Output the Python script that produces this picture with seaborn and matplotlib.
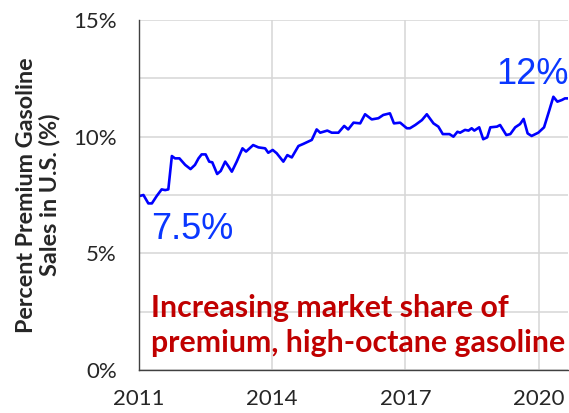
import matplotlib
matplotlib.use("Agg")
import matplotlib.pyplot as plt
import seaborn as sns
import pandas as pd

# premium share of US gasoline sales (decimal year, %)
years = [2011.02, 2011.10, 2011.21, 2011.29, 2011.40, 2011.51, 2011.59, 2011.66,
         2011.74, 2011.81, 2011.91, 2012.04, 2012.16, 2012.26, 2012.34, 2012.41,
         2012.50, 2012.58, 2012.65, 2012.76, 2012.84, 2012.94, 2013.01, 2013.09,
         2013.20, 2013.33, 2013.41, 2013.57, 2013.69, 2013.84, 2013.91, 2014.01,
         2014.10, 2014.25, 2014.34, 2014.44, 2014.59, 2014.70, 2014.89, 2015.00,
         2015.08, 2015.24, 2015.34, 2015.49, 2015.62, 2015.71, 2015.83, 2015.98,
         2016.09, 2016.24, 2016.39, 2016.50, 2016.65, 2016.74, 2016.88, 2017.03,
         2017.10, 2017.22, 2017.37, 2017.48, 2017.63, 2017.74, 2017.84, 2017.99,
         2018.08, 2018.17, 2018.23, 2018.34, 2018.42, 2018.49, 2018.55, 2018.66,
         2018.75, 2018.84, 2018.91, 2019.06, 2019.13, 2019.27, 2019.36, 2019.47,
         2019.58, 2019.66, 2019.75, 2019.84, 2019.99, 2020.12, 2020.24, 2020.33,
         2020.42, 2020.52, 2020.59, 2020.68]
share = [7.46, 7.50, 7.14, 7.14, 7.46, 7.74, 7.71, 7.74,
         9.17, 9.07, 9.07, 8.79, 8.61, 8.79, 9.07, 9.24,
         9.24, 8.93, 8.90, 8.40, 8.53, 8.93, 8.74, 8.50,
         8.93, 9.50, 9.36, 9.64, 9.54, 9.50, 9.31, 9.43,
         9.29, 8.93, 9.21, 9.11, 9.60, 9.69, 9.86, 10.31,
         10.17, 10.26, 10.17, 10.17, 10.46, 10.31, 10.60, 10.57,
         10.96, 10.74, 10.79, 10.93, 11.00, 10.57, 10.60, 10.36,
         10.36, 10.50, 10.71, 10.96, 10.57, 10.43, 10.11, 10.11,
         10.00, 10.21, 10.17, 10.29, 10.26, 10.36, 10.26, 10.40,
         9.89, 9.97, 10.40, 10.43, 10.50, 10.07, 10.11, 10.40,
         10.54, 10.76, 10.14, 10.03, 10.17, 10.40, 11.14, 11.71,
         11.50, 11.57, 11.64, 11.64]

year_ticks = [2011, 2014, 2017, 2020]
pct_ticks = [0, 2.5, 5, 7.5, 10, 12.5, 15]
pct_labels = ["0%", "", "5%", "", "10%", "", "15%"]

df = pd.DataFrame({"year": years, "share": share})

sns.set_style("white")
plt.rcParams["font.family"] = ["Lato", "DejaVu Sans"]

fig = plt.figure(figsize=(5.69, 4.13), dpi=100)
ax = fig.add_axes([0.2443, 0.1041, 0.7540, 0.8475])

sns.lineplot(data=df, x="year", y="share", color="#0000FF", linewidth=1.9, ax=ax)

ax.set_xlim(2011, 2020.66)
ax.set_ylim(0, 15)
ax.set_xticks(year_ticks)
ax.set_xticklabels([str(y) for y in year_ticks])
ax.set_yticks(pct_ticks)
ax.set_yticklabels(pct_labels)
ax.grid(True, color="#D6D6D6", linewidth=1.1)
ax.set_axisbelow(True)

for side in ["top", "right"]:
    ax.spines[side].set_visible(False)
for side in ["left", "bottom"]:
    ax.spines[side].set_color("#404040")
    ax.spines[side].set_linewidth(1.0)

ax.tick_params(axis="y", direction="out", length=5, width=1, color="#404040",
               labelsize=16, pad=11)
ax.tick_params(axis="x", direction="inout", length=9, width=1, color="#404040",
               labelsize=16, pad=9)

ax.set_xlabel("")
ax.set_ylabel("Percent Premium Gasoline\nSales in U.S. (%)", fontsize=16.8,
              fontweight="bold", labelpad=9, linespacing=1.1)

ax.text(2012.2, 6.0, "7.5%", color="#0A37FF", fontsize=26,
        family=["Liberation Sans"], ha="center", va="center")
ax.text(2019.85, 12.65, "12%", color="#0A37FF", fontsize=26,
        family=["Liberation Sans"], ha="center", va="center")
ax.text(2011.28, 1.9, "Increasing market share of\npremium, high-octane gasoline",
        color="#C00000", fontsize=21.8, fontweight="bold", ha="left",
        va="center", linespacing=1.3)

fig.savefig("out.png", dpi=100)
